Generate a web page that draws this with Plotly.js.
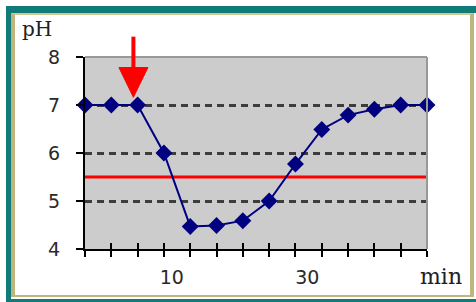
<!DOCTYPE html>
<html>
<head>
<meta charset="utf-8">
<script src="https://cdn.plot.ly/plotly-3.0.1.min.js"></script>
<style>
  html, body { margin:0; padding:0; background:#ffffff; width:476px; height:302px; overflow:hidden; }
  #frame { position:absolute; left:6px; top:6px; width:470px; height:296px; background:#107b78; }
  #panel { position:absolute; left:11px; top:13px; width:465px; height:286px; background:#ffffff; }
  #bevel { position:absolute; left:11px; top:13px; width:463px; height:284px; box-sizing:border-box;
           border-left:4px solid #bfb67e; border-top:2px solid #cfc894; border-right:4px solid #bfb67e; border-bottom:2px solid #bfb67e; }
  #chart { position:absolute; left:0; top:0; width:476px; height:302px; }
</style>
</head>
<body>
<div id="frame"></div>
<div id="panel"></div>
<div id="bevel"></div>
<div id="chart"></div>
<script>
// ---- data ----
const samples = [0,1,2,3,4,5,6,7,8,9,10,11,12,13];
const pH      = [7,7,7,6,4.47,4.49,4.59,5.0,5.77,6.49,6.79,6.91,7,7];
const xTickLabels   = ['10','30'];
const xTickLabelPos = [3.3, 8.45];
const yTickVals = [4,5,6,7,8];
const yGridVals = [5,6,7];
const criticalPH = 5.5;
const arrowAt = 1.84;   // sample position the red arrow points at

const xRange = [samples[0], samples[samples.length-1]];
const yRange = [4, 8];

// invisible helper traces so that overlay axes (extra ticks, labels, grid) get drawn
function helper(xa, ya) {
  return {x:[samples[0]], y:[pH[0]], xaxis:xa, yaxis:ya, type:'scatter', mode:'markers',
          marker:{opacity:0, size:1}, hoverinfo:'skip', showlegend:false};
}

const traces = [
  helper('x2','y'), helper('x3','y'), helper('x','y2'),
  {
    x: samples, y: pH, type:'scatter', mode:'lines+markers',
    line:{color:'#000080', width:2},
    marker:{symbol:'diamond', size:13, color:'#000080'},
    cliponaxis:false, hoverinfo:'skip'
  }
];

const tickFont = {family:'DejaVu Sans, Verdana, sans-serif', size:19, color:'#2a2a2a'};

const layout = {
  width:476, height:302,
  margin:{l:85, r:49, t:57, b:53, pad:0},
  paper_bgcolor:'rgba(0,0,0,0)',
  plot_bgcolor:'#cccccc',
  showlegend:false,
  xaxis:{
    range:xRange, showgrid:false, zeroline:false,
    showline:true, linecolor:'#000000', linewidth:2,
    tickmode:'array', tickvals:samples, ticks:'outside', ticklen:6, tickwidth:2, tickcolor:'#000000',
    showticklabels:false, fixedrange:true
  },
  xaxis2:{
    overlaying:'x', anchor:'y', range:xRange, showgrid:false, zeroline:false, showline:false,
    tickmode:'array', tickvals:samples, ticks:'inside', ticklen:6, tickwidth:2, tickcolor:'#000000',
    showticklabels:false, side:'bottom'
  },
  xaxis3:{
    overlaying:'x', anchor:'y', range:xRange, showgrid:false, zeroline:false, showline:false,
    tickmode:'array', tickvals:xTickLabelPos, ticktext:xTickLabels, ticks:'',
    showticklabels:true, tickfont:tickFont, ticklabelstandoff:15, side:'bottom'
  },
  yaxis:{
    range:yRange, showgrid:false, zeroline:false,
    showline:true, linecolor:'#000000', linewidth:2,
    tickmode:'array', tickvals:yTickVals, ticks:'outside', ticklen:7, tickwidth:2, tickcolor:'#000000',
    tickfont:tickFont, ticklabelstandoff:12, fixedrange:true
  },
  yaxis2:{
    overlaying:'y', anchor:'x', range:yRange, zeroline:false, showline:false, side:'left',
    tickmode:'array', tickvals:yGridVals, ticks:'', showticklabels:false,
    showgrid:true, gridcolor:'#3c3c3c', gridwidth:3, griddash:'7px,5px'
  },
  shapes:[
    {type:'line', xref:'paper', yref:'y', x0:0, x1:1, y0:criticalPH, y1:criticalPH,
     line:{color:'#ff0000', width:3}, layer:'below'},
    {type:'line', xref:'paper', yref:'paper', x0:0, x1:1, y0:1, y1:1,
     line:{color:'#999999', width:2}, layer:'above'},
    {type:'line', xref:'paper', yref:'paper', x0:1, x1:1, y0:0, y1:1,
     line:{color:'#999999', width:2}, layer:'above'},
    // red arrow: shaft and head
    {type:'line', xref:'x', yref:'paper', x0:arrowAt, x1:arrowAt, y0:1.106, y1:0.93,
     line:{color:'#ff0000', width:4}, layer:'above'},
    {type:'path', xref:'x', yref:'paper',
     path:'M '+(arrowAt-0.55)+' 0.945 L '+(arrowAt+0.55)+' 0.945 L '+arrowAt+' 0.79 Z',
     fillcolor:'#ff0000', line:{color:'#ff0000', width:1}, layer:'above'}
  ],
  annotations:[
    {text:'pH', xref:'paper', yref:'paper', x:-0.14, y:1.145, xanchor:'center', yanchor:'middle',
     showarrow:false, font:{family:'DejaVu Serif, serif', size:20, color:'#202020'}},
    {text:'min', xref:'paper', yref:'paper', x:1.041, y:-0.145, xanchor:'center', yanchor:'middle',
     showarrow:false, font:{family:'DejaVu Serif, serif', size:22, color:'#202020'}}
  ]
};

Plotly.newPlot('chart', traces, layout, {staticPlot:true, displayModeBar:false});
</script>
</body>
</html>
